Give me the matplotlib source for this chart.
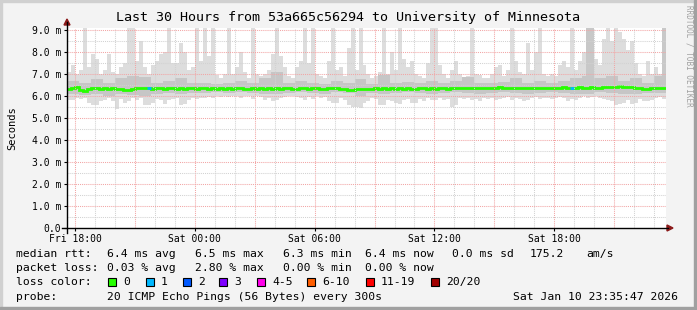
import numpy as np
import matplotlib
matplotlib.use("Agg")
import matplotlib.pyplot as plt
from matplotlib.patches import Polygon, Rectangle
from matplotlib.lines import Line2D

plt.rcParams['font.family'] = ['DejaVu Sans Mono']

W, H = 697, 310

# time axis: 150 bins of 12 minutes, starting Fri 17:35:47 (hours since Fri 00:00)
t_start = 17 + 35 / 60 + 47 / 3600
bin_hours = 0.2

# max ping per bin (ms)
hi = [7.1, 7.4, 7.0, 7.2, 9.3, 7.3, 7.9, 7.7, 7.0, 7.2, 7.9, 7.1, 7.0, 7.3, 7.5, 9.3, 9.3, 7.6, 8.5, 7.3,
      7.0, 7.4, 7.6, 7.9, 8.0, 9.3, 7.5, 7.5, 8.4, 8.0, 7.2, 7.3, 9.3, 7.6, 9.3, 7.8, 9.3,
      6.95, 6.8, 7.0, 9.3, 7.0, 7.3, 8.0, 7.1, 6.8, 9.3, 7.0, 6.9, 7.0, 7.2, 7.9, 9.3, 7.8, 7.3, 6.9,
      6.8, 7.3, 7.6, 9.3, 7.5, 9.3, 7.0, 6.9, 6.8, 7.6, 9.3, 7.2, 7.3, 6.9, 8.2, 9.3, 7.2, 9.3, 7.4,
      7.0, 6.8, 6.9, 7.1, 9.3, 7.0, 8.0, 7.2, 9.3, 7.7, 7.3, 7.6, 7.0, 6.9, 6.8, 7.5, 9.3, 9.3, 7.4,
      7.0, 6.8, 7.2, 7.6, 7.0, 6.8, 6.9, 9.3, 7.0, 6.95, 6.8, 6.8, 7.0, 7.3, 7.4, 6.9, 7.2, 9.3,
      7.6, 7.1, 7.0, 8.4, 7.2, 8.0, 9.3, 7.0, 6.9, 7.0, 6.9, 7.4, 7.6, 7.3, 9.3, 7.2, 7.6, 8.0, 9.3,
      9.3, 7.7, 7.4, 8.6, 9.3, 8.5, 9.3, 8.9, 8.6, 8.1, 8.5, 7.5, 7.0, 6.9, 7.6, 7.0, 7.3, 7.0, 9.3]

# min ping per bin (ms)
lo = [5.8, 5.8, 5.9, 5.85, 5.9, 5.7, 5.6, 5.6, 5.75, 5.8,
      5.9, 5.75, 5.4, 5.85, 5.7, 5.75, 5.9, 5.8, 5.9, 5.6,
      5.6, 5.7, 5.85, 5.8, 5.65, 5.8, 5.85, 5.9, 5.6, 5.65,
      5.8, 5.9, 5.85, 5.9, 5.9, 5.95, 5.9, 6.0, 5.95, 6.0,
      5.95, 6.0, 6.0, 5.9, 6.0, 6.0, 5.85, 6.0, 5.95, 5.8,
      5.9, 5.75, 5.8, 5.9, 5.95, 6.0, 6.0, 5.95, 5.9, 5.8,
      5.95, 5.85, 6.0, 5.9, 5.95, 5.75, 5.7, 5.7, 5.9, 5.8,
      5.6, 5.5, 5.5, 5.45, 5.7, 5.75, 5.9, 5.85, 5.6, 5.6,
      5.8, 5.75, 5.7, 5.65, 5.8, 5.85, 5.7, 5.7, 5.85, 5.75,
      5.9, 5.8, 5.8, 5.9, 5.8, 5.85, 5.5, 5.6, 5.9, 5.85,
      5.9, 5.8, 5.85, 5.75, 5.9, 5.85, 5.9, 5.8, 5.85, 5.9,
      5.95, 5.8, 5.9, 5.85, 5.75, 5.8, 5.9, 5.95, 5.85, 5.9,
      5.9, 5.85, 5.9, 5.95, 5.9, 5.75, 5.85, 5.8, 5.9, 6.0,
      5.9, 5.95, 6.0, 5.9, 5.85, 5.8, 5.75, 5.6, 5.65, 5.7,
      5.8, 5.65, 5.7, 5.85, 5.75, 5.75, 5.8, 5.9, 5.95, 5.85]

# inner (darker) smoke band, 50 bins of 36 minutes
hi2 = [6.7, 6.6, 6.75, 6.6, 6.8, 6.9, 6.85, 6.6, 6.7, 6.8,
       6.6, 6.6, 6.55, 6.6, 6.7, 6.6, 6.8, 7.1, 6.6, 6.7,
       6.6, 6.55, 6.7, 6.6, 6.75, 6.55, 6.95, 6.6, 6.65, 6.6,
       6.7, 6.6, 6.7, 6.85, 6.6, 6.6, 6.65, 6.8, 6.6, 6.7,
       6.6, 6.7, 6.8, 6.9, 6.8, 6.9, 6.7, 6.8, 6.6, 6.9]
lo2 = [6.1, 6.05, 6.1, 6.0, 6.1, 6.05, 6.0, 6.1, 6.15, 6.1,
       6.15, 6.15, 6.2, 6.15, 6.2, 6.15, 6.1, 6.1, 6.15, 6.2,
       6.15, 6.1, 6.2, 6.15, 6.0, 6.15, 6.1, 6.15, 6.2, 6.15,
       6.1, 6.15, 6.2, 6.15, 6.1, 6.15, 6.2, 6.15, 6.1, 6.15,
       6.2, 6.15, 6.1, 6.1, 6.2, 6.15, 6.1, 6.1, 6.15, 6.15]

# bins where several pings hit the top (darker tall columns)
dark_spike_bins = [130, 131, 149]

# median rtt per bin (ms)
med = [6.33, 6.38, 6.4, 6.25, 6.22, 6.32, 6.38, 6.35, 6.33, 6.36,
       6.34, 6.35, 6.33, 6.3, 6.28, 6.28, 6.32, 6.35, 6.38, 6.36,
       6.38, 6.34, 6.36, 6.35, 6.33, 6.37, 6.35, 6.34, 6.36, 6.33,
       6.35, 6.36, 6.34, 6.37, 6.35, 6.34, 6.36, 6.33, 6.35, 6.34,
       6.36, 6.33, 6.35, 6.37, 6.34, 6.32, 6.35, 6.33, 6.36, 6.34,
       6.35, 6.33, 6.36, 6.34, 6.37, 6.35, 6.33, 6.34, 6.36, 6.35,
       6.33, 6.35, 6.36, 6.34, 6.33, 6.35, 6.38, 6.36, 6.34, 6.33,
       6.28, 6.27, 6.32, 6.33, 6.3, 6.34, 6.33, 6.35, 6.33, 6.36,
       6.34, 6.35, 6.33, 6.36, 6.34, 6.35, 6.33, 6.34, 6.36, 6.35,
       6.33, 6.35, 6.34, 6.36, 6.35, 6.34, 6.36, 6.38, 6.35, 6.37,
       6.36, 6.38, 6.35, 6.37, 6.36, 6.38, 6.35, 6.37, 6.39, 6.36,
       6.38, 6.36, 6.37, 6.35, 6.37, 6.38, 6.36, 6.35, 6.37, 6.36,
       6.38, 6.37, 6.36, 6.38, 6.39, 6.37, 6.36, 6.38, 6.4, 6.38,
       6.37, 6.39, 6.38, 6.36, 6.4, 6.42, 6.43, 6.42, 6.44, 6.41,
       6.42, 6.4, 6.38, 6.37, 6.32, 6.3, 6.35, 6.38, 6.36, 6.37]

# bins where pings were lost
loss_bins = [20, 126]
loss_counts = [1, 1]

loss_labels = ['0', '1', '2', '3', '4-5', '6-10', '11-19', '20/20']
loss_colors = ['#26ff00', '#00b8ff', '#0059ff', '#7e00ff', '#ff00ea', '#ff5e00', '#ff0000', '#a10000']

x_ticks = [18, 24, 30, 36, 42]
x_tick_labels = ['Fri 18:00', 'Sat 00:00', 'Sat 06:00', 'Sat 12:00', 'Sat 18:00']
y_ticks = [0, 1, 2, 3, 4, 5, 6, 7, 8, 9]
y_tick_labels = ['0.0'] + ['%d.0 m' % v for v in y_ticks[1:]]

stats_rows = [
    ('median rtt:', ['6.4 ms avg', '6.5 ms max', '6.3 ms min', '6.4 ms now', '0.0 ms sd', '175.2', 'am/s']),
    ('packet loss:', ['0.03 % avg', '2.80 % max', '0.00 % min', '0.00 % now']),
]
stats_x = [107, 195, 283, 365, 452, 530, 586]


def fx(px):
    return px / W


def fy(py):
    return 1 - py / H


fig = plt.figure(figsize=(W / 100, H / 100), dpi=100, facecolor='#f3f3f3')

# plot area: x 67..666, y 28..228 in pixels
ax = fig.add_axes([fx(67), fy(228), (666 - 67) / W, 200 / H])
ax.set_facecolor('white')

n = len(hi)
edges = t_start + np.arange(n + 1) * bin_hours
hi_a = np.array(hi)
lo_a = np.array(lo)
hi2_a = np.repeat(hi2, 3)
lo2_a = np.repeat(lo2, 3)
med_a = np.array(med)

ax.stairs(hi_a, edges, baseline=lo_a, fill=True, color='#dddddd', lw=0, zorder=1)
for b in dark_spike_bins:
    ax.fill_between([edges[b], edges[b + 1]], 6.6, hi[b], color='#c8c8c8', lw=0, zorder=2)
ax.stairs(hi2_a, edges, baseline=lo2_a, fill=True, color='#c6c6c6', lw=0, zorder=2)

# median line, coloured by loss
ax.stairs(med_a, edges, color=loss_colors[0], lw=2, baseline=None, zorder=4)
for b, c in zip(loss_bins, loss_counts):
    ax.hlines(med_a[b], edges[b], edges[b + 1], color=loss_colors[c], lw=2, zorder=5)

ax.set_xlim(t_start, t_start + 30)
ax.set_ylim(0, 9.09)

# grid: minor grey every hour / 0.5 ms, major red every 3 h / 1 ms
dots = (0, (1, 1))
for h in range(18, 48):
    col = '#f2a5a5' if h % 3 == 0 else '#d2d2d2'
    ax.axvline(h, color=col, lw=0.75, ls=dots, zorder=6)
for v in np.arange(0.5, 9.1, 0.5):
    col = '#f2a5a5' if v % 1 == 0 else '#d2d2d2'
    ax.axhline(v, color=col, lw=0.75, ls=dots, zorder=6)

for s in ax.spines.values():
    s.set_visible(False)
ax.set_xticks(x_ticks)
ax.set_xticklabels(x_tick_labels, fontsize=7)
ax.set_yticks(y_ticks)
ax.set_yticklabels(y_tick_labels, fontsize=7)
ax.tick_params(axis='both', length=2, width=0.8, color='black', pad=2)
ax.set_ylabel('Seconds', fontsize=7.5, labelpad=11)

# axis lines and arrows
fig.add_artist(Line2D([fx(67), fx(67)], [fy(233), fy(22)], color='black', lw=1))
fig.add_artist(Line2D([fx(62), fx(668)], [fy(228), fy(228)], color='black', lw=1))
fig.add_artist(Polygon([[fx(64), fy(25)], [fx(70), fy(25)], [fx(67), fy(19)]], closed=True,
                       color='#8b1a1a', transform=fig.transFigure))
fig.add_artist(Polygon([[fx(667), fy(225)], [fx(667), fy(231)], [fx(673), fy(228)]], closed=True,
                       color='#8b1a1a', transform=fig.transFigure))

fig.text(fx(348), fy(18), 'Last 30 Hours from 53a665c56294 to University of Minnesota',
         fontsize=9.6, ha='center', va='center')
fig.text(fx(689), fy(5), 'RRDTOOL / TOBI OETIKER', fontsize=5.5, color='#a0a0a0',
         rotation=270, ha='center', va='top')

# legend block
fs = 8.2
row_y = [254, 268]
for (label, items), y in zip(stats_rows, row_y):
    fig.text(fx(16), fy(y), label, fontsize=fs, va='center')
    for s, x in zip(items, stats_x):
        fig.text(fx(x), fy(y), s, fontsize=fs, va='center')

fig.text(fx(16), fy(282), 'loss color:', fontsize=fs, va='center')
swatch_x = [108, 146, 183, 219, 257, 307, 366, 431]
for lab, col, x in zip(loss_labels, loss_colors, swatch_x):
    fig.add_artist(Rectangle((fx(x), fy(286)), 8 / W, 8 / H, facecolor=col, edgecolor='black',
                             lw=0.8, transform=fig.transFigure))
    fig.text(fx(x + 15), fy(282), lab, fontsize=fs, va='center')

fig.text(fx(16), fy(297), 'probe:', fontsize=fs, va='center')
fig.text(fx(107), fy(297), '20 ICMP Echo Pings (56 Bytes) every 300s', fontsize=fs, va='center')
fig.text(fx(513), fy(297), 'Sat Jan 10 23:35:47 2026', fontsize=fs, va='center')

# frame shading
fig.add_artist(Rectangle((0, 1 - 2 / H), 1, 2 / H, color='#d0d0d0', transform=fig.transFigure))
fig.add_artist(Rectangle((0, 0), 2 / W, 1, color='#d0d0d0', transform=fig.transFigure))
fig.add_artist(Rectangle((0, 0), 1, 3 / H, color='#a0a0a0', transform=fig.transFigure))
fig.add_artist(Rectangle((1 - 3 / W, 0), 3 / W, 1, color='#a0a0a0', transform=fig.transFigure))

fig.savefig('out.png', dpi=100, facecolor=fig.get_facecolor())
